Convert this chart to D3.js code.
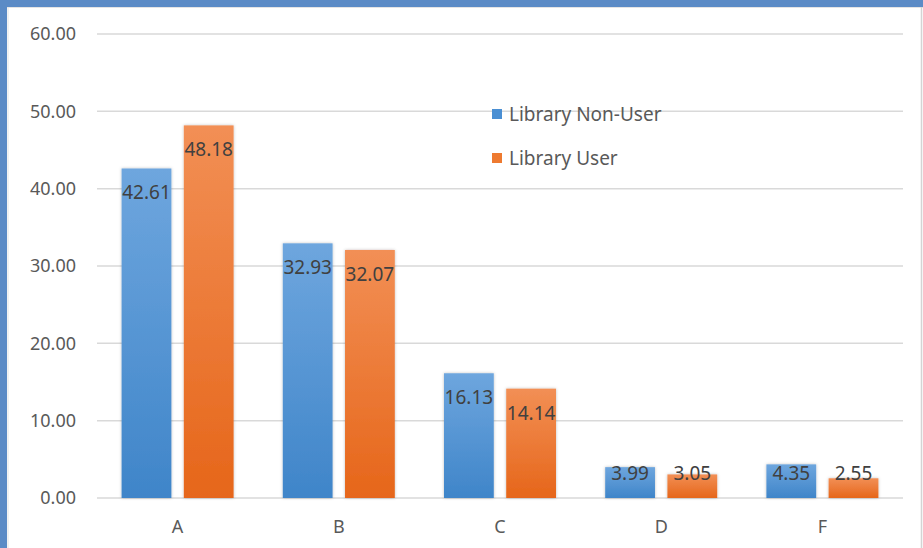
<!DOCTYPE html>
<html>
<head>
<meta charset="utf-8">
<script src="https://cdn.jsdelivr.net/npm/d3@7"></script>
<style>
    body { margin: 0; background: #fff; }
    text { font-family: "Noto Sans", "Open Sans", sans-serif; }
</style>
</head>
<body>
<div id="chart"></div>
<script>
    var categories = ["A", "B", "C", "D", "F"];
    var seriesNames = ["Library Non-User", "Library User"];
    var nonUser = [42.61, 32.93, 16.13, 3.99, 4.35];
    var user = [48.18, 32.07, 14.14, 3.05, 2.55];
    var yTicks = [0, 10, 20, 30, 40, 50, 60];

(function() {
    'use strict';

    var width = 923, height = 548;
    var plotLeft = 97, plotRight = 903, plotTop = 34, plotBottom = 498;

    var svg = d3.select("#chart").append("svg")
        .attr("width", width).attr("height", height);

    var defs = svg.append("defs");
    function grad(id, c1, c2) {
        var g = defs.append("linearGradient").attr("id", id)
            .attr("x1", 0).attr("y1", 0).attr("x2", 0).attr("y2", 1);
        g.append("stop").attr("offset", "0%").attr("stop-color", c1);
        g.append("stop").attr("offset", "100%").attr("stop-color", c2);
    }
    grad("gBlue", "#6ea6de", "#3f85c9");
    grad("gOrange", "#f28f55", "#e6661a");
    var shadow = defs.append("filter").attr("id", "shadow")
        .attr("x", "-20%").attr("y", "-20%").attr("width", "140%").attr("height", "140%");
    shadow.append("feDropShadow").attr("dx", 0).attr("dy", 0)
        .attr("stdDeviation", 1.5).attr("flood-color", "#000").attr("flood-opacity", 0.25);

    // frame
    svg.append("rect").attr("x", 0).attr("y", 0).attr("width", width).attr("height", height).attr("fill", "#5b8bc6");
    svg.append("rect").attr("x", 7).attr("y", 7).attr("width", width - 7).attr("height", height - 7).attr("fill", "#fff");
    svg.append("line").attr("x1", 8).attr("x2", 8).attr("y1", 7).attr("y2", height).attr("stroke", "#e4e4e4");
    svg.append("line").attr("x1", 7).attr("x2", width).attr("y1", 7.5).attr("y2", 7.5).attr("stroke", "#e4e4e4");
    svg.append("line").attr("x1", 921.5).attr("x2", 921.5).attr("y1", 7).attr("y2", height).attr("stroke", "#d4d4d4").attr("stroke-width", 1.5);

    var y = d3.scaleLinear().domain([0, 60]).range([plotBottom, plotTop]);
    var x0 = d3.scaleBand().domain(categories).range([plotLeft, plotRight]);
    var x1 = d3.scaleBand().domain(seriesNames).range([-56, 56]).paddingInner(0.2);

    // gridlines
    svg.append("g").selectAll("line").data(yTicks).enter().append("line")
        .attr("x1", plotLeft).attr("x2", plotRight)
        .attr("y1", function(d) { return y(d); }).attr("y2", function(d) { return y(d); })
        .attr("stroke", "#d9d9d9").attr("stroke-width", 1.5);

    // y labels
    svg.append("g").selectAll("text").data(yTicks).enter().append("text")
        .attr("x", 76).attr("y", function(d) { return y(d); })
        .attr("dy", "0.35em").attr("text-anchor", "end")
        .attr("font-size", 18).attr("fill", "#595959")
        .text(function(d) { return d.toFixed(2); });

    // category labels
    svg.append("g").selectAll("text").data(categories).enter().append("text")
        .attr("x", function(d) { return x0(d) + x0.bandwidth() / 2; }).attr("y", 533)
        .attr("text-anchor", "middle").attr("font-size", 18).attr("fill", "#595959")
        .text(function(d) { return d; });

    var rows = [];
    categories.forEach(function(c, i) {
        rows.push({ cat: c, s: seriesNames[0], v: nonUser[i], fill: "url(#gBlue)" });
        rows.push({ cat: c, s: seriesNames[1], v: user[i], fill: "url(#gOrange)" });
    });

    function bx(d) { return x0(d.cat) + x0.bandwidth() / 2 + x1(d.s); }

    svg.append("g").selectAll("rect").data(rows).enter().append("rect")
        .attr("x", bx).attr("y", function(d) { return y(d.v); })
        .attr("width", x1.bandwidth()).attr("height", function(d) { return plotBottom - y(d.v); })
        .attr("fill", function(d) { return d.fill; })
        .attr("filter", "url(#shadow)");

    svg.append("g").selectAll("text").data(rows).enter().append("text")
        .attr("x", function(d) { return bx(d) + x1.bandwidth() / 2; })
        .attr("y", function(d) { return Math.min(y(d.v) + 31, plotBottom - 18); })
        .attr("text-anchor", "middle").attr("font-size", 19).attr("fill", "#404040")
        .text(function(d) { return d.v.toFixed(2); });

    // legend
    var legend = svg.append("g").selectAll("g").data(seriesNames).enter().append("g")
        .attr("transform", function(d, i) { return "translate(492," + (114 + i * 44) + ")"; });
    legend.append("rect").attr("x", 0).attr("y", -5).attr("width", 10).attr("height", 10)
        .attr("fill", function(d, i) { return i === 0 ? "#4a8fd3" : "#ee7a30"; });
    legend.append("text").attr("x", 17).attr("dy", "0.35em")
        .attr("font-size", 19).attr("fill", "#595959")
        .text(function(d) { return d; });
})();
</script>
</body>
</html>
